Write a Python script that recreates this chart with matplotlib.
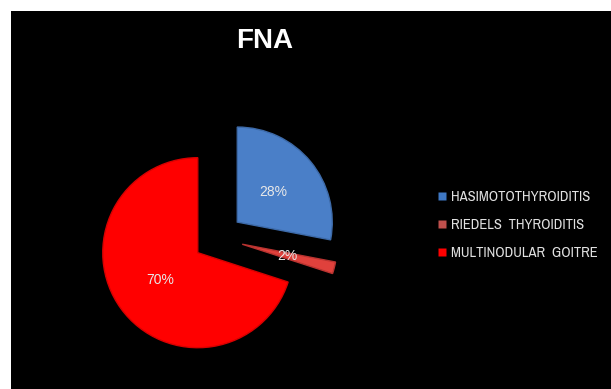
import matplotlib
matplotlib.use("Agg")
import matplotlib.pyplot as plt
from matplotlib.patches import Rectangle
from matplotlib.lines import Line2D
from matplotlib import font_manager

categories = ["HASIMOTOTHYROIDITIS", "RIEDELS  THYROIDITIS", "MULTINODULAR  GOITRE"]
values = [28, 2, 70]
colors = ["#4a7fc8", "#e0413c", "#ff0000"]
edge_colors = ["#3d6aa8", "#b83330", "#d80000"]
legend_colors = ["#3f78c4", "#c0504d", "#ff0000"]
title = "FNA"

W, H = 611, 389
fig = plt.figure(figsize=(W / 100, H / 100), dpi=100, facecolor="white")

ax = fig.add_axes([0, 0, 1, 1])
ax.add_patch(Rectangle((11, 0), W, H - 11, facecolor="black", edgecolor="none", zorder=-10))

cx, cy = 218, H - 238
r = 95
wedges, texts, autotexts = ax.pie(
    values, colors=colors, startangle=90, counterclock=False,
    center=(cx, cy), radius=r, explode=[25, 25, 25],
    autopct="%1.0f%%", pctdistance=0.49,
    wedgeprops=dict(linewidth=1.0),
    textprops=dict(color="#e8e8e8", fontsize=10, family="Liberation Sans"))
for w, ec in zip(wedges, edge_colors):
    w.set_edgecolor(ec)
ax.set_xlim(0, W)
ax.set_ylim(0, H)
ax.set_aspect("equal")
ax.axis("off")

ax.text(265, H - 41, title, ha="center", va="center", color="white",
        fontsize=20, fontweight="bold", family="Liberation Sans")

names = {f.name for f in font_manager.fontManager.ttflist}
leg_family = next((n for n in ["Archivo Narrow", "PT Sans Narrow", "Roboto Condensed",
                               "Liberation Sans"] if n in names), "DejaVu Sans")
handles = [Line2D([], [], marker="s", linestyle="none", markersize=6,
                  markerfacecolor=c, markeredgecolor="none") for c in legend_colors]
leg = ax.legend(handles, categories, loc="center left",
                bbox_to_anchor=(438 / W, 1 - 225 / H), bbox_transform=fig.transFigure,
                frameon=False, prop=dict(family=leg_family, size=10.5),
                labelspacing=0.95, handlelength=0.6, handletextpad=0.3,
                borderpad=0, borderaxespad=0)
for t in leg.get_texts():
    t.set_color("#e0e0e0")

fig.savefig("out.png", dpi=100, facecolor="white")
